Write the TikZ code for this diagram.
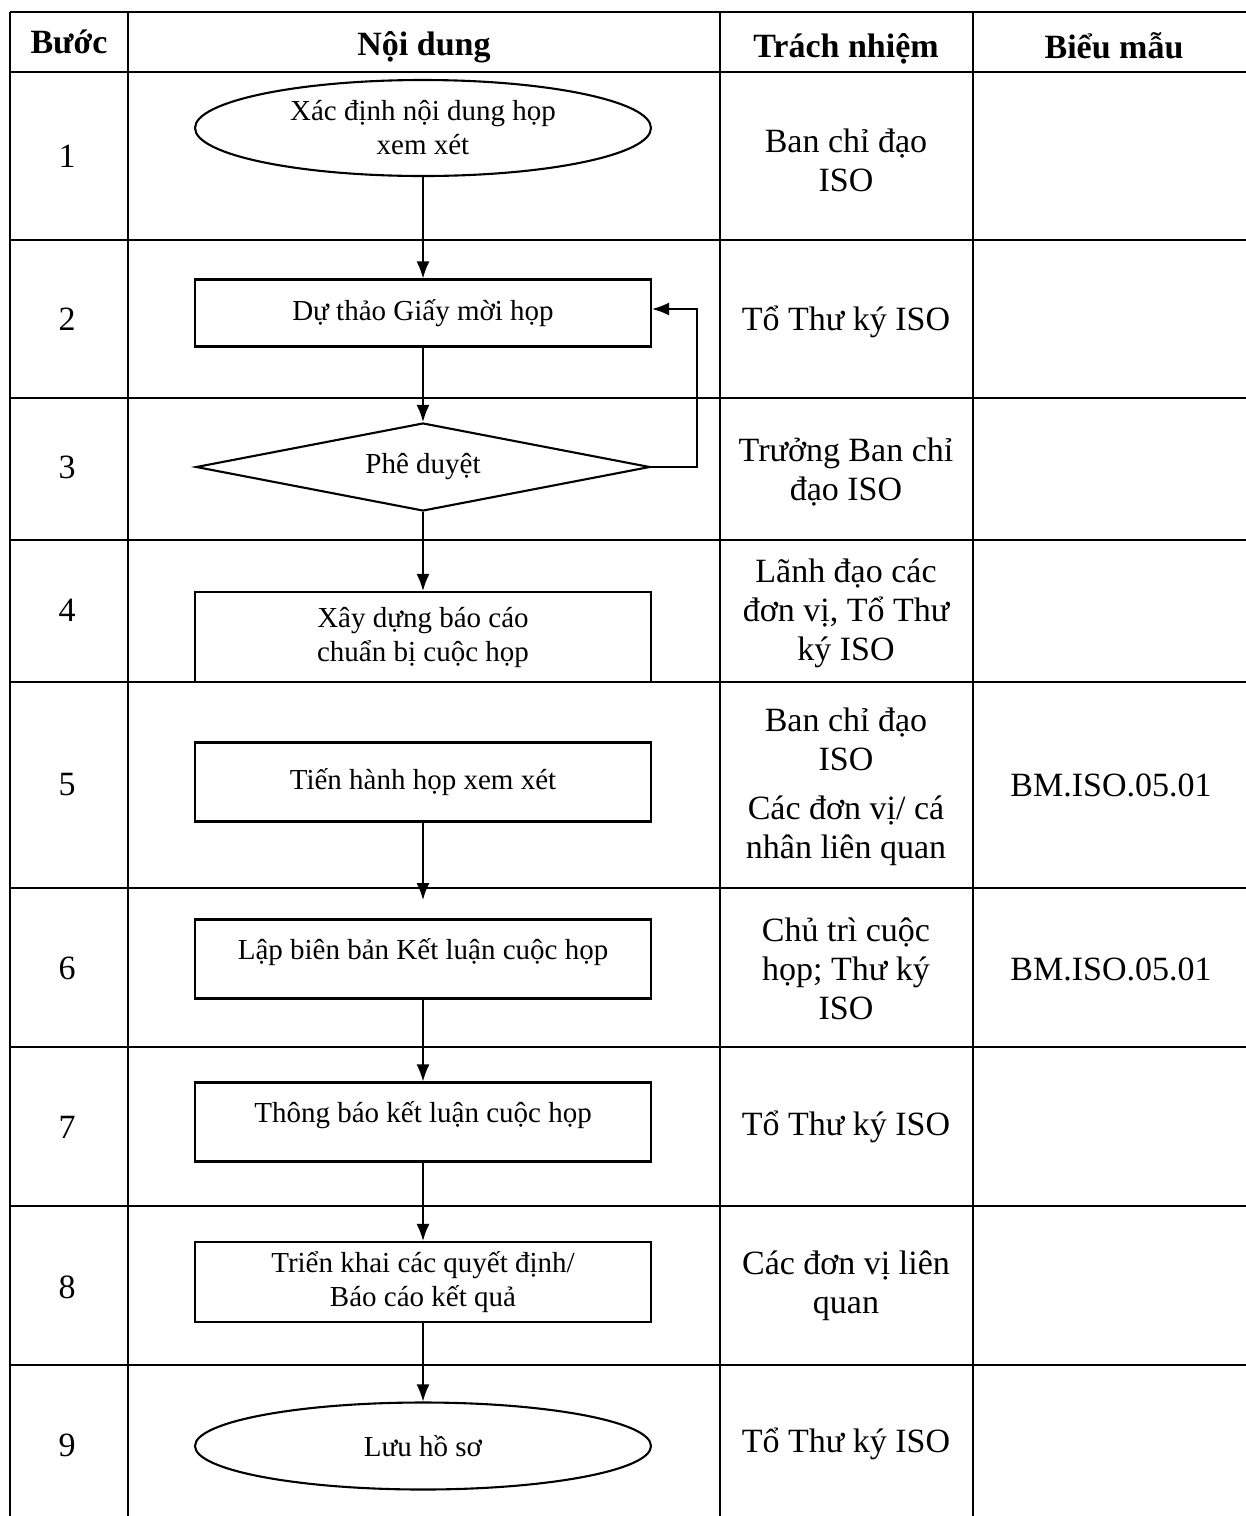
\documentclass[tikz,border=0pt]{standalone}
\usepackage{fontspec}
\setmainfont{Liberation Serif}
\usetikzlibrary{positioning,shapes.geometric,arrows.meta}
\tikzset{
  cell/.style    = {align=center, font=\fontsize{34}{39}\selectfont},
  head/.style    = {cell, anchor=base, font=\fontsize{34}{39}\selectfont\bfseries},
  proc/.style    = {shape=rectangle, draw, line width=2.1pt,
                    minimum width=456pt, minimum height=79pt,
                    align=center, font=\fontsize{29}{34}\selectfont},
  term/.style    = {proc, shape=ellipse},
  decide/.style  = {proc, shape=diamond, aspect=5.2, inner sep=2pt,
                    minimum width=454pt, minimum height=88pt},
  basemid/.style = {text height=26pt, text depth=26pt},
  flow/.style    = {draw, line width=1.7pt, -{Latex[length=17pt,width=13pt]}}
}
\begin{document}
\begin{tikzpicture}[x=1pt, y=-1pt, line width=2pt]
  \useasboundingbox (0,0) rectangle (1246,1516);

  % table grid
  \foreach \y in {240,398,540,682,888,1047,1206,1365}
    \draw (10,\y) -- (1246,\y);
  \foreach \y in {12,72}
    \draw [line width=2.6pt] (10,\y) -- (1246,\y);
  \foreach \x in {10,128,720,973}
    \draw (\x,12) -- (\x,1516);

  % header
  \node [head] (h1) at (69,53)   {Bước};
  \node [head] (h2) at (424,55)  {Nội dung};
  \node [head] (h3) at (846,57)  {Trách nhiệm};
  \node [head] (h4) at (1114,58) {Biểu mẫu};

  % step numbers
  \foreach \n/\y in {1/156,2/319,3/467,4/610,5/785,6/968,7/1127,8/1287,9/1445}
    \node [cell] (s\n) at (67,\y) {\n};

  % responsibility
  \node [cell] (r1) at (846,160)  {Ban chỉ đạo\\ISO};
  \node [cell] (r2) at (846,322)  {Tổ Thư ký ISO};
  \node [cell] (r3) at (846,472)  {Trưởng Ban chỉ\\đạo ISO};
  \node [cell] (r4) at (846,613)  {Lãnh đạo các\\đơn vị, Tổ Thư\\ký ISO};
  \node [cell] (r5) at (846,787)  {Ban chỉ đạo\\ISO\\[10pt]Các đơn vị/ cá\\nhân liên quan};
  \node [cell] (r6) at (846,969)  {Chủ trì cuộc\\họp; Thư ký\\ISO};
  \node [cell] (r7) at (846,1127) {Tổ Thư ký ISO};
  \node [cell] (r8) at (846,1286) {Các đơn vị liên\\quan};
  \node [cell] (r9) at (846,1444) {Tổ Thư ký ISO};

  % forms
  \node [cell] (f5) at (1111,785) {BM.ISO.05.01};
  \node [cell] (f6) at (1111,969) {BM.ISO.05.01};

  % flow chart
  \node [term, minimum height=96pt] (c1) at (423,128) {Xác định nội dung họp\\xem xét};
  \node [proc, minimum height=67pt] (c2) at (423,313) {Dự thảo Giấy mời họp};
  \node [decide] (c3) at (423,467) {Phê duyệt};
  \node [proc, minimum height=90pt] (c4) at (423,637) {Xây dựng báo cáo\\chuẩn bị cuộc họp};
  \node [proc] (c5) at (423,782) {Tiến hành họp xem xét};
  \node [proc, basemid] (c6) at (423,959) {Lập biên bản Kết luận cuộc họp};
  \node [proc, basemid] (c7) at (423,1122) {Thông báo kết luận cuộc họp};
  \node [proc, minimum height=80pt] (c8) at (423,1282) {Triển khai các quyết định/\\Báo cáo kết quả};
  \node [term, minimum height=87pt] (c9) at (423,1446) {Lưu hồ sơ};
  \coordinate (e5) at (423,900);

  \draw [flow] (c1) -- (c2);
  \draw [flow] (c2) -- (c3);
  \draw [flow] (c3) -- (c4);
  \draw [flow] (c5) -- (e5);
  \draw [flow] (c6) -- (c7);
  \draw [flow] (c7) -- (c8);
  \draw [flow] (c8) -- (c9);
  \draw [flow] (c3.east) -- ++(46,0) |- ([yshift=4pt]c2.east);
\end{tikzpicture}
\end{document}
